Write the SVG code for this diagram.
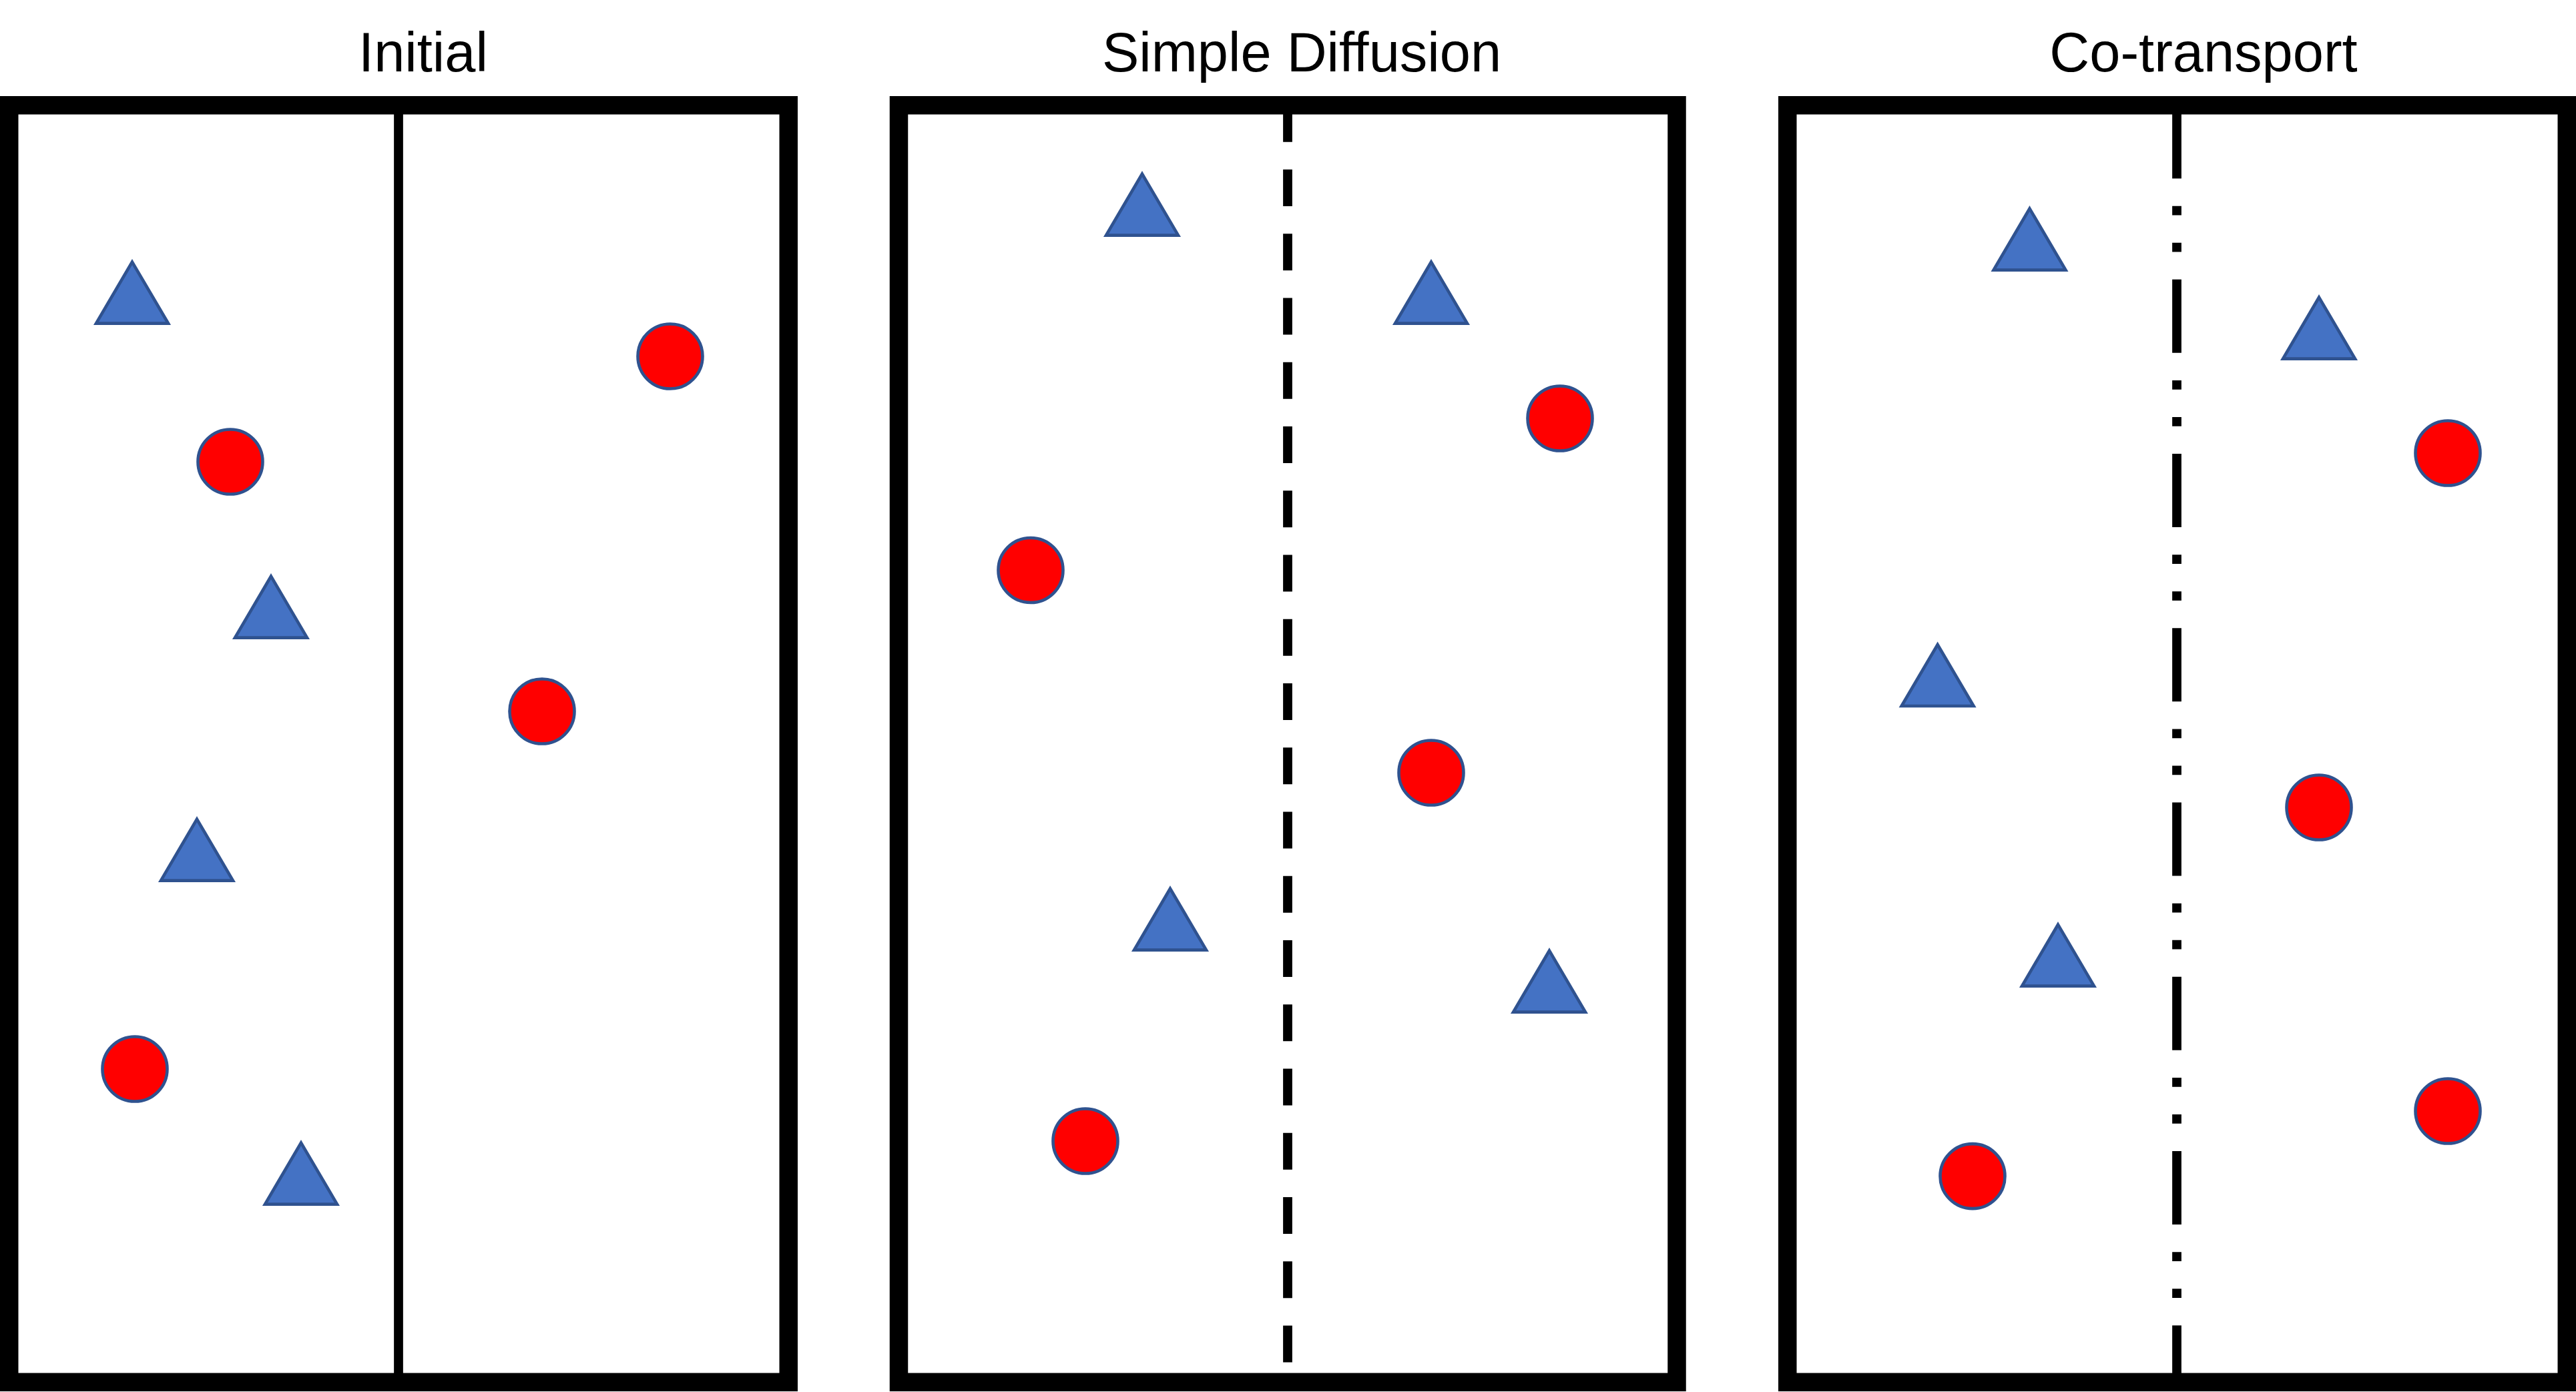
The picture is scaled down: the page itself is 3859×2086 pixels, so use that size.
<svg xmlns="http://www.w3.org/2000/svg" xmlns:xlink="http://www.w3.org/1999/xlink" width="3859" height="2086" viewBox="0 0 3859 2086">
  <style>
    .title { font-family: "Liberation Sans", Arial, sans-serif; font-size: 83px; fill: #000; text-anchor: middle; }
    .frame { fill: none; stroke: #000; stroke-width: 27.5; }
    .wall { fill: none; stroke: #000; stroke-width: 13.75; }
    .dash { stroke-dasharray: 55 41.25; }
    .ldd { stroke-dasharray: 110 41.25 13.75 41.25 13.75 41.25; }
    .tri { fill: #4472C4; stroke: #2F528F; stroke-width: 4.6; stroke-linejoin: miter; }
    .ball { fill: #FF0000; stroke: #2F528F; stroke-width: 4.6; }
  </style>
  <defs>
    <path id="triShape" d="M0,0 L54,92 L-54,92 Z"/>
  </defs>
  <rect x="0" y="0" width="3859" height="2086" fill="#FFFFFF"/>

  <g id="panel-initial">
    <text class="title" x="634" y="107">Initial</text>
    <line class="wall" x1="597" y1="157.75" x2="597" y2="2071"/>
    <rect class="frame" x="13.75" y="157.75" width="1167.5" height="1913.5"/>
    <use id="i-t1" class="tri" href="#triShape" xlink:href="#triShape" x="198" y="392.6"/>
    <use id="i-t2" class="tri" href="#triShape" xlink:href="#triShape" x="406" y="863.6"/>
    <use id="i-t3" class="tri" href="#triShape" xlink:href="#triShape" x="295" y="1227.6"/>
    <use id="i-t4" class="tri" href="#triShape" xlink:href="#triShape" x="451" y="1712.6"/>
    <circle id="i-c1" class="ball" cx="345" cy="692" r="48.5"/>
    <circle id="i-c2" class="ball" cx="1004" cy="534" r="48.5"/>
    <circle id="i-c3" class="ball" cx="812" cy="1066" r="48.5"/>
    <circle id="i-c4" class="ball" cx="202" cy="1602" r="48.5"/>
  </g>

  <g id="panel-simple-diffusion">
    <text class="title" x="1950" y="107">Simple Diffusion</text>
    <line class="wall dash" x1="1929" y1="157.75" x2="1929" y2="2071"/>
    <rect class="frame" x="1346.5" y="157.75" width="1165.5" height="1913.5"/>
    <use id="s-t1" class="tri" href="#triShape" xlink:href="#triShape" x="1711" y="260.6"/>
    <use id="s-t2" class="tri" href="#triShape" xlink:href="#triShape" x="2144" y="392.6"/>
    <use id="s-t3" class="tri" href="#triShape" xlink:href="#triShape" x="1753" y="1331.6"/>
    <use id="s-t4" class="tri" href="#triShape" xlink:href="#triShape" x="2321" y="1424.6"/>
    <circle id="s-c1" class="ball" cx="2337" cy="627" r="48.5"/>
    <circle id="s-c2" class="ball" cx="1544" cy="854.5" r="48.5"/>
    <circle id="s-c3" class="ball" cx="2144" cy="1158" r="48.5"/>
    <circle id="s-c4" class="ball" cx="1626" cy="1710" r="48.5"/>
  </g>

  <g id="panel-co-transport">
    <text class="title" x="3301" y="107">Co-transport</text>
    <line class="wall ldd" x1="3261" y1="157.5" x2="3261" y2="2071"/>
    <rect class="frame" x="2677.75" y="157.75" width="1167.5" height="1913.5"/>
    <use id="c-t1" class="tri" href="#triShape" xlink:href="#triShape" x="3040.5" y="312.6"/>
    <use id="c-t2" class="tri" href="#triShape" xlink:href="#triShape" x="3474" y="445.6"/>
    <use id="c-t3" class="tri" href="#triShape" xlink:href="#triShape" x="2902.6" y="966"/>
    <use id="c-t4" class="tri" href="#triShape" xlink:href="#triShape" x="3083" y="1385.6"/>
    <circle id="c-c1" class="ball" cx="3667" cy="679" r="48.5"/>
    <circle id="c-c2" class="ball" cx="3474" cy="1210" r="48.5"/>
    <circle id="c-c3" class="ball" cx="3667" cy="1665" r="48.5"/>
    <circle id="c-c4" class="ball" cx="2955" cy="1762.6" r="48.5"/>
  </g>

  <g id="connectors"/>
</svg>
